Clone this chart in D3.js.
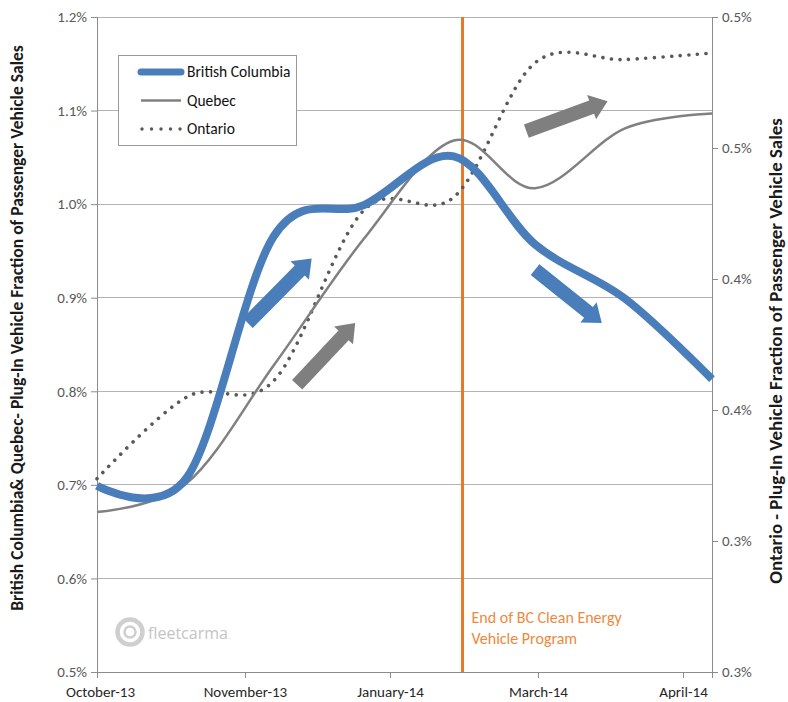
<!DOCTYPE html>
<html>
<head>
<meta charset="utf-8">
<script src="https://cdn.jsdelivr.net/npm/d3@7"></script>
<style>
  html, body { margin: 0; padding: 0; background: #fff; }
  svg { display: block; }
  text { font-family: Carlito, Lato, "Open Sans", sans-serif; }
</style>
</head>
<body>
<svg id="chart" width="788" height="702"></svg>
<script>
// ---- data ----
const months = ["2013-10-01","2013-11-01","2013-12-01","2014-01-01","2014-02-01","2014-03-01","2014-04-01","2014-05-01"];
const britishColumbia = [0.699, 0.708, 0.966, 0.999, 1.051, 0.957, 0.899, 0.813]; // % (left axis)
const quebec          = [0.671, 0.702, 0.828, 0.963, 1.068, 1.017, 1.081, 1.097]; // % (left axis)
const ontario         = [0.359, 0.384, 0.389, 0.441, 0.445, 0.486, 0.487, 0.489]; // % (right axis)
const leftTicks  = [0.5, 0.6, 0.7, 0.8, 0.9, 1.0, 1.1, 1.2];
const rightTicks = [0.30, 0.34, 0.38, 0.42, 0.46, 0.50];
const xTickDates = ["2013-10-01","2013-11-21","2014-01-10","2014-03-02","2014-04-21"];
const programEnd = "2014-02-04";
const seriesNames = ["British Columbia", "Quebec", "Ontario"];
// trend arrows: [start date, start %, end date, end %, colour key]
const arrows = [
  ["2013-11-22", 0.873, "2013-12-14", 0.942, "bc"],
  ["2013-12-09", 0.807, "2013-12-29", 0.873, "qc"],
  ["2014-02-26", 1.078, "2014-03-26", 1.110, "qc"],
  ["2014-03-01", 0.930, "2014-03-24", 0.873, "bc"]
];

// ---- layout ----
const W = 788, H = 702;
const m = {left: 97, right: 76, top: 17, bottom: 30};
const parse = d3.timeParse("%Y-%m-%d");
const svg = d3.select("#chart");

const x = d3.scaleTime().domain([parse(months[0]), parse(months[months.length-1])]).range([m.left, W - m.right]);
const yL = d3.scaleLinear().domain([0.5, 1.2]).range([H - m.bottom, m.top]);
const yR = d3.scaleLinear().domain([0.30, 0.50]).range([H - m.bottom, m.top]);

const BLUE = "#4a7ebb", GREY = "#808080", DOTS = "#595959", ORANGE = "#e8782a";
const AXIS = "#8c8c8c", GRID = "#b3b3b3", LABEL = "#595959";

function fit(sel, target) {
  const fs = parseFloat(sel.style("font-size"));
  const len = sel.node().getComputedTextLength();
  sel.style("font-size", (fs * target / len).toFixed(2) + "px");
}

// gridlines
svg.append("g").selectAll("line").data(leftTicks.slice(1)).join("line")
  .attr("x1", m.left).attr("x2", W - m.right)
  .attr("y1", d => yL(d)).attr("y2", d => yL(d))
  .attr("stroke", GRID).attr("stroke-width", 1).attr("shape-rendering", "crispEdges");

// axes
const fmtL = d => d3.format(".1f")(d) + "%";
const fmtR = d => d3.format(".1f")(d) + "%";
const gL = svg.append("g").attr("transform", `translate(${m.left},0)`)
  .call(d3.axisLeft(yL).tickValues(leftTicks).tickFormat(fmtL).tickSize(6).tickPadding(4));
const gR = svg.append("g").attr("transform", `translate(${W - m.right},0)`)
  .call(d3.axisRight(yR).tickValues(rightTicks).tickFormat(fmtR).tickSize(6).tickPadding(4));
const fmtX = d3.timeFormat("%B-%y");
const gX = svg.append("g").attr("transform", `translate(0,${H - m.bottom})`)
  .call(d3.axisBottom(x).tickValues(xTickDates.map(parse)).tickFormat(fmtX).tickSize(6).tickPadding(8));
[gL, gR, gX].forEach(g => {
  g.select(".domain").attr("stroke", AXIS);
  g.selectAll(".tick line").attr("stroke", AXIS);
  g.selectAll(".tick text").attr("fill", LABEL).style("font-size", "15px")
    .style("font-family", "Carlito, Lato, sans-serif");
});
gX.selectAll(".tick text").attr("fill", "#262626").style("font-size", "15px");
gX.selectAll(".tick").filter((d, i) => i === 0).select("text").attr("dx", 3);

// axis titles
const tL = svg.append("text")
  .attr("transform", `translate(23,328) rotate(-90)`)
  .attr("text-anchor", "middle").style("font-size", "13px").style("font-weight", "bold").attr("fill", "#1a1a1a")
  .text("British Columbia& Quebec- Plug-In Vehicle Fraction of Passenger Vehicle Sales");
fit(tL, 566);
const tR = svg.append("text")
  .attr("transform", `translate(782,351) rotate(-90)`)
  .attr("text-anchor", "middle").style("font-size", "13px").style("font-weight", "bold").attr("fill", "#1a1a1a")
  .text("Ontario - Plug-In Vehicle Fraction of Passenger Vehicle Sales");
fit(tR, 466);

// watermark logo
const logo = svg.append("g").attr("fill", "none").attr("stroke", "#cfcfcf");
logo.append("circle").attr("cx", 130).attr("cy", 632).attr("r", 12.5).attr("stroke-width", 4.5);
logo.append("circle").attr("cx", 130).attr("cy", 632).attr("r", 5.5).attr("stroke-width", 2.5);
const lt = svg.append("text").attr("x", 148).attr("y", 639).attr("fill", "#c4c4c4")
  .style("font-size", "16px").style("font-family", "'Open Sans', sans-serif").text("fleetcarma");
const ltEnd = 148 + lt.node().getComputedTextLength();
svg.append("text").attr("x", ltEnd + 1).attr("y", 639).attr("fill", "#c8c8c8").style("font-size", "6px").text(".");

// program end vertical line
svg.append("line").attr("x1", x(parse(programEnd))).attr("x2", x(parse(programEnd)))
  .attr("y1", m.top).attr("y2", H - m.bottom).attr("stroke", ORANGE).attr("stroke-width", 3);
svg.append("text").attr("x", x(parse(programEnd)) + 9).attr("y", 623).attr("fill", "#f0883c")
  .style("font-size", "16px").text("End of BC Clean Energy");
svg.append("text").attr("x", x(parse(programEnd)) + 9).attr("y", 644).attr("fill", "#f0883c")
  .style("font-size", "16px").text("Vehicle Program");

// arrows
function arrowPoly(x1, y1, x2, y2, shaft, headW, headL) {
  const dx = x2 - x1, dy = y2 - y1, L = Math.hypot(dx, dy);
  const ux = dx / L, uy = dy / L, px = -uy, py = ux;
  const bx = x2 - ux * headL, by = y2 - uy * headL;
  const pts = [
    [x1 + px*shaft/2, y1 + py*shaft/2], [bx + px*shaft/2, by + py*shaft/2],
    [bx + px*headW/2, by + py*headW/2], [x2, y2],
    [bx - px*headW/2, by - py*headW/2], [bx - px*shaft/2, by - py*shaft/2],
    [x1 - px*shaft/2, y1 - py*shaft/2]
  ];
  return "M" + pts.map(p => p.join(",")).join("L") + "Z";
}
svg.append("g").selectAll("path").data(arrows).join("path")
  .attr("d", d => arrowPoly(x(parse(d[0])), yL(d[1]), x(parse(d[2])), yL(d[3]), 14, 26, 17))
  .attr("fill", d => d[4] === "bc" ? BLUE : "#7f7f7f");

// lines
const curve = d3.curveCardinal.tension(0);
const dates = months.map(parse);
const lineL = d3.line().x((d, i) => x(dates[i])).y(d => yL(d)).curve(curve);
const lineR = d3.line().x((d, i) => x(dates[i])).y(d => yR(d)).curve(curve);
svg.append("path").datum(ontario).attr("d", lineR).attr("fill", "none")
  .attr("stroke", DOTS).attr("stroke-width", 3.6).attr("stroke-linecap", "round").attr("stroke-dasharray", "0.01 8.6");
svg.append("path").datum(quebec).attr("d", lineL).attr("fill", "none")
  .attr("stroke", GREY).attr("stroke-width", 2.5);
svg.append("path").datum(britishColumbia).attr("d", lineL).attr("fill", "none")
  .attr("stroke", BLUE).attr("stroke-width", 8).attr("stroke-linecap", "butt");

// legend
const lg = svg.append("g").attr("transform", "translate(118,55)");
lg.append("rect").attr("x", 0.5).attr("y", 0.5).attr("width", 178).attr("height", 90)
  .attr("fill", "#fff").attr("stroke", "#999").attr("stroke-width", 1);
const legendStyles = [
  {stroke: BLUE, w: 7, dash: null, cap: "round"},
  {stroke: GREY, w: 2.5, dash: null, cap: "butt"},
  {stroke: DOTS, w: 3.4, dash: "0.01 9.5", cap: "round"}
];
seriesNames.forEach((name, i) => {
  const yy = 17 + i * 28.5;
  const s = legendStyles[i];
  lg.append("line").attr("x1", i === 2 ? 24 : 23).attr("x2", 63).attr("y1", yy).attr("y2", yy)
    .attr("stroke", s.stroke).attr("stroke-width", s.w).attr("stroke-linecap", s.cap)
    .attr("stroke-dasharray", s.dash);
  lg.append("text").attr("x", 69).attr("y", yy + 5).attr("fill", "#111").style("font-size", "15.5px").text(name);
});
</script>
</body>
</html>
